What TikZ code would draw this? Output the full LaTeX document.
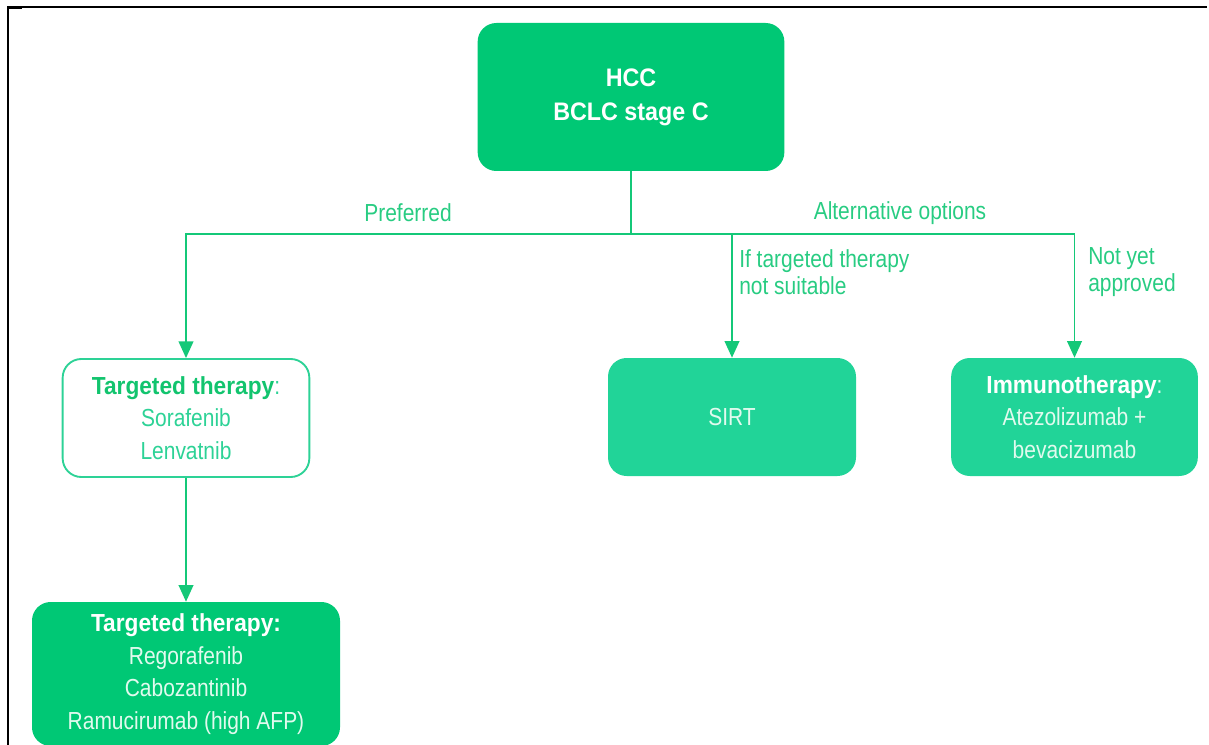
\documentclass[tikz,border=0pt]{standalone}
\usepackage{fontspec}
\setmainfont{Liberation Sans}[FakeStretch=0.85,BoldFeatures={FakeStretch=0.92}]
\usetikzlibrary{arrows.meta}
\definecolor{hccgreen}{RGB}{0,200,117}
\definecolor{sirtgreen}{RGB}{33,212,152}
\definecolor{linegreen}{RGB}{20,200,120}
\definecolor{lblgreen}{RGB}{40,204,130}
\definecolor{boldgreen}{RGB}{18,196,110}
\definecolor{palegreen}{RGB}{45,210,150}
\definecolor{palewhite}{RGB}{225,250,238}
\tikzset{
  box/.style={rounded corners=14pt, align=center, inner sep=0pt,
    font=\fontsize{18.5}{24.5}\selectfont},
  darkbox/.style={box, fill=hccgreen, text=white},
  lightbox/.style={box, fill=sirtgreen, text=palewhite},
  openbox/.style={box, draw=palegreen, line width=1.4pt, text=palegreen},
  link/.style={draw=linegreen, line width=1.4pt},
  arrowlink/.style={link, -{Triangle[width=11pt,length=12.5pt]}},
  lbl/.style={text=lblgreen, inner sep=0pt, align=left,
    font=\fontsize{18.5}{20.25}\selectfont},
}

\begin{document}
\begin{tikzpicture}[x=0.75pt,y=-0.75pt]
      \useasboundingbox (0,0) rectangle (1209,745);

      % frame of the scan
      \draw [line width=1.5pt] (8,745) -- (8,7) -- (1207,7);
      \fill (7,6) rectangle (22,9.5);

      % boxes
      \node (hcc) [darkbox, minimum width=230pt, minimum height=111pt,
        font=\bfseries\fontsize{19}{25.5}\selectfont] at (631,97) {HCC\\BCLC stage C};
      \node (tt1) [openbox, minimum width=185pt, minimum height=88.5pt] at (186,418)
        {\textcolor{boldgreen}{\textbf{Targeted therapy}}:\\Sorafenib\\Lenvatnib};
      \node (tt2) [darkbox, minimum width=231pt, minimum height=108pt] at (186,674)
        {\textbf{Targeted therapy:}\\\textcolor{palewhite}{Regorafenib}\\
         \textcolor{palewhite}{Cabozantinib}\\\textcolor{palewhite}{Ramucirumab (high AFP)}};
      \node (sirt) [lightbox, minimum width=186pt, minimum height=88.5pt] at (732,417) {SIRT};
      \node (immuno) [lightbox, minimum width=185pt, minimum height=88.5pt] at (1074.5,417)
        {\textcolor{white}{\textbf{Immunotherapy}}:\\Atezolizumab +\\bevacizumab};

      % connectors
      \coordinate (split) at (631,234);
      \draw [link] (hcc) -- (split);
      \draw [arrowlink] (split) -| (tt1);
      \draw [arrowlink] (split) -| (sirt);
      \draw [arrowlink] (split) -| (immuno);
      \draw [arrowlink] (tt1) -- (tt2);

      % labels
      \node (preferred) [lbl] at (408,213) {Preferred};
      \node (alternative) [lbl] at (900,213) {Alternative options};
      \node (unsuitable) [lbl, anchor=west] at (739,272) {If targeted therapy\\not suitable};
      \node (approved) [lbl, anchor=west] at (1088,272) {Not yet\\approved};
\end{tikzpicture}
\end{document}
